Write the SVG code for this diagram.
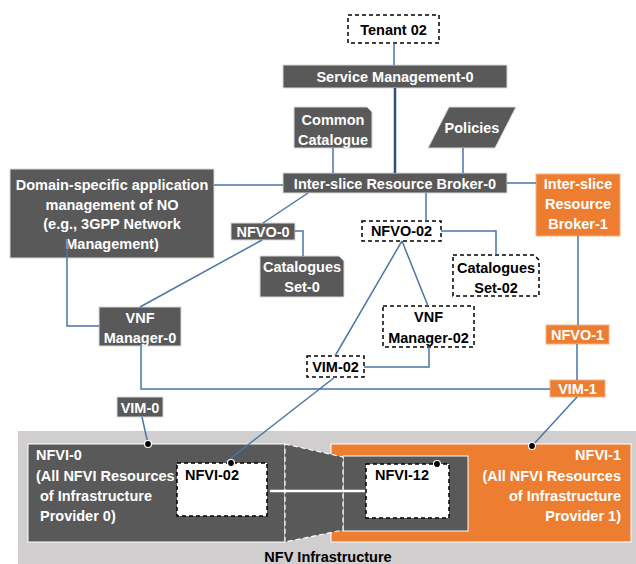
<svg xmlns="http://www.w3.org/2000/svg" width="636" height="564" viewBox="0 0 636 564">
<style>
text{font-family:"Liberation Sans",Arial,sans-serif;font-weight:bold;font-size:14.5px}
.w{fill:#ffffff}
.k{fill:#000000}
.c{text-anchor:middle}
.e{text-anchor:end}
.dk{fill:#595959;stroke:#d9d9d9;stroke-width:1}
.or{fill:#ed7d31;stroke:#f4b183;stroke-width:1}
.ds{fill:#ffffff;stroke:#000000;stroke-width:1.5;stroke-dasharray:4 3}
.ln{fill:none;stroke:#4a76a8;stroke-width:1.5}
.lnd{fill:none;stroke:#2f4f7f;stroke-width:2.5}
.dot{fill:#000000;stroke:#ffffff;stroke-width:1.2}
</style>
<rect x="0" y="0" width="636" height="564" fill="#ffffff"/>

<g id="tenant02"><rect class="ds" x="348" y="15" width="91" height="28"/><text class="k c" x="393.5" y="34.5">Tenant 02</text></g>
<g id="sm0"><rect class="dk" x="283" y="65" width="224" height="23"/><text class="w c" x="395" y="82">Service Management-0</text></g>
<g id="commonCatalogue"><path class="dk" d="M294,107 H367 L372,112 V148 H294 Z"/><text class="w c" x="333" y="125">Common</text><text class="w c" x="333" y="145">Catalogue</text></g>
<g id="policies"><polygon class="dk" points="449,107 516,107 495,148 428,148"/><text class="w c" x="472" y="133">Policies</text></g>
<g id="broker0"><rect class="dk" x="283" y="173" width="224" height="20"/><text class="w c" x="395" y="188.5">Inter-slice Resource Broker-0</text></g>
<g id="domain"><rect class="dk" x="10" y="169" width="204" height="89"/>
<text class="w c" x="112" y="190">Domain-specific application</text>
<text class="w c" x="112" y="210">management of NO</text>
<text class="w c" x="112" y="229">(e.g., 3GPP Network</text>
<text class="w c" x="112" y="249">Management)</text></g>
<g id="broker1"><rect class="or" x="536" y="174" width="84" height="62"/>
<text class="w c" x="578" y="189">Inter-slice</text>
<text class="w c" x="578" y="209">Resource</text>
<text class="w c" x="578" y="229">Broker-1</text></g>
<g id="nfvo0"><rect class="dk" x="231" y="223" width="64" height="17"/><text class="w c" x="263" y="236.5">NFVO-0</text></g>
<g id="catSet0"><path class="dk" d="M260,256 H339 L344,261 V297 H260 Z"/><text class="w c" x="302" y="272">Catalogues</text><text class="w c" x="302" y="292">Set-0</text></g>
<g id="nfvo02"><rect class="ds" x="362" y="221" width="79" height="20"/><text class="k c" x="401.5" y="236">NFVO-02</text></g>
<g id="catSet02"><path class="ds" d="M453,255 H534 L539,260 V296 H453 Z"/><text class="k c" x="496" y="273">Catalogues</text><text class="k c" x="496" y="293">Set-02</text></g>
<g id="vnfm02"><rect class="ds" x="383" y="306" width="91" height="41"/><text class="k c" x="428.5" y="322">VNF</text><text class="k c" x="428.5" y="343">Manager-02</text></g>
<g id="vnfm0"><rect class="dk" x="99" y="307" width="82" height="39"/><text class="w c" x="140" y="323">VNF</text><text class="w c" x="140" y="343">Manager-0</text></g>
<g id="vim02"><rect class="ds" x="307" y="356" width="57" height="21"/><text class="k c" x="335.5" y="372">VIM-02</text></g>
<g id="nfvo1"><rect class="or" x="546" y="325" width="63" height="19"/><text class="w c" x="577.5" y="340">NFVO-1</text></g>
<g id="vim1"><rect class="or" x="550" y="380" width="55" height="17"/><text class="w c" x="577.5" y="394">VIM-1</text></g>
<g id="vim0"><rect class="dk" x="117" y="397" width="46" height="20"/><text class="w c" x="140" y="412.5">VIM-0</text></g>

<g id="nfvInfrastructure"><rect x="18" y="431" width="618" height="133" fill="#d0cece"/><text class="k c" x="328" y="562">NFV Infrastructure</text></g>
<g id="nfvi0"><rect x="28" y="444" width="257" height="98" fill="#595959" stroke="#ffffff" stroke-width="1"/>
<text class="w" x="36" y="460">NFVI-0</text>
<text class="w" x="36" y="481">(All NFVI Resources</text>
<text class="w" x="40" y="501">of Infrastructure</text>
<text class="w" x="40" y="521">Provider 0)</text></g>
<g id="nfvi1"><rect x="331" y="444" width="300" height="98" fill="#ed7d31" stroke="#ffffff" stroke-width="1"/>
<rect x="343" y="456" width="125" height="75" fill="#595959" stroke="#ffffff" stroke-width="1"/>
<text class="w e" x="621" y="460">NFVI-1</text>
<text class="w e" x="621" y="481">(All NFVI Resources</text>
<text class="w e" x="621" y="501">of Infrastructure</text>
<text class="w e" x="621" y="521">Provider 1)</text></g>
<g id="link"><polygon points="285,444 343,457 343,530 285,542" fill="#595959" stroke="#ffffff" stroke-width="1.2" stroke-dasharray="5 3"/>
<line x1="270" y1="491" x2="366" y2="491" stroke="#ffffff" stroke-width="2.5"/></g>
<g id="nfvi02"><rect class="ds" x="177" y="463" width="90" height="53"/><text class="k" x="185" y="480">NFVI-02</text></g>
<g id="nfvi12"><rect class="ds" x="366" y="464" width="83" height="54"/><text class="k" x="375" y="480">NFVI-12</text></g>

<g id="connectors">
<line class="ln" x1="394" y1="43" x2="394" y2="65"/>
<line class="lnd" x1="395" y1="88" x2="395" y2="173"/>
<line class="ln" x1="333" y1="148" x2="333" y2="173"/>
<line class="ln" x1="463" y1="148" x2="463" y2="173"/>
<line class="ln" x1="214" y1="185" x2="283" y2="185"/>
<line class="ln" x1="507" y1="183" x2="536" y2="183"/>
<line class="ln" x1="308" y1="193" x2="263" y2="223"/>
<line class="ln" x1="426" y1="193" x2="426" y2="221"/>
<polyline class="ln" points="295,231 303,231 303,256"/>
<line class="ln" x1="262" y1="240" x2="140" y2="307"/>
<polyline class="ln" points="67,238 67,326 99,326"/>
<polyline class="ln" points="441,231 496,231 496,255"/>
<line class="ln" x1="402" y1="241" x2="428" y2="306"/>
<line class="ln" x1="402" y1="241" x2="335" y2="356"/>
<polyline class="ln" points="429,347 429,367 364,367"/>
<line class="ln" x1="578" y1="236" x2="578" y2="325"/>
<line class="ln" x1="577" y1="344" x2="577" y2="380"/>
<polyline class="ln" points="141,346 141,389 550,389"/>
<line class="ln" x1="142" y1="417" x2="148" y2="444"/>
<line class="ln" x1="335" y1="377" x2="226" y2="462"/>
<line class="ln" x1="577" y1="397" x2="532" y2="446"/>
</g>
<g id="ports">
<circle class="dot" cx="148" cy="444" r="3.5"/>
<circle class="dot" cx="231" cy="463" r="3.5"/>
<circle class="dot" cx="437" cy="464" r="3.5"/>
<circle class="dot" cx="532" cy="446" r="3.5"/>
</g>
</svg>
